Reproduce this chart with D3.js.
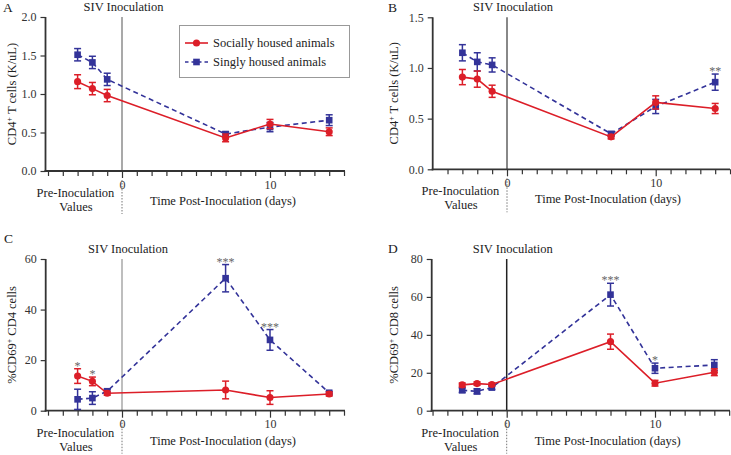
<!DOCTYPE html>
<html><head><meta charset="utf-8">
<script src="https://cdn.jsdelivr.net/npm/d3@7"></script>
<style>body{margin:0;background:#fff}svg{display:block}svg text{font-family:'Liberation Serif','Times New Roman',serif}</style>
</head><body>
<svg id="c" width="731" height="455"></svg>
<script>
// ---- data ----
const days = [-3, -2, -1, 7, 10, 14];
const seriesNames = ["Socially housed animals", "Singly housed animals"];

const aSocial = [1.16, 1.07, 0.98, 0.43, 0.61, 0.51];
const aSocialErr = [0.09, 0.08, 0.08, 0.05, 0.06, 0.05];
const aSingle = [1.51, 1.41, 1.19, 0.48, 0.57, 0.66];
const aSingleErr = [0.08, 0.08, 0.08, 0.03, 0.06, 0.07];

const bSocial = [0.91, 0.89, 0.77, 0.32, 0.66, 0.60];
const bSocialErr = [0.075, 0.08, 0.06, 0.02, 0.065, 0.05];
const bSingle = [1.15, 1.06, 1.03, 0.35, 0.62, 0.86];
const bSingleErr = [0.08, 0.09, 0.07, 0.02, 0.07, 0.08];

const cSocial = [13.7, 11.6, 6.9, 8.2, 5.2, 6.6];
const cSocialErr = [2.9, 1.7, 0.8, 3.5, 2.7, 0.8];
const cSingle = [4.5, 5.0, 7.7, 52.4, 28.0, 7.1];
const cSingleErr = [4.0, 2.5, 0.8, 5.4, 4.1, 0.5];

const dSocial = [13.6, 14.3, 13.8, 36.4, 14.5, 20.3];
const dSocialErr = [1.0, 0.9, 0.9, 4.0, 1.5, 1.8];
const dSingle = [10.8, 10.2, 12.2, 61.2, 22.4, 24.1];
const dSingleErr = [1.2, 1.3, 1.0, 6.0, 2.7, 2.8];

const aYTicks = [0, 0.5, 1.0, 1.5, 2.0];
const bYTicks = [0, 0.5, 1.0, 1.5];
const cYTicks = [0, 20, 40, 60];
const dYTicks = [0, 20, 40, 60, 80];
const xMajorTicks = [0, 10];

const aStars = [];
const bStars = [{s: 1, day: 14, t: "**"}];
const cStars = [{s: 0, day: -3, t: "*"}, {s: 0, day: -2, t: "*"}, {s: 1, day: 7, t: "***"}, {s: 1, day: 10, t: "***"}];
const dStars = [{s: 1, day: 7, t: "***"}, {s: 1, day: 10, t: "*"}];

// ---- layout ----
const RED = "#dc1e28", BLUE = "#333399";
const FONT = "'Liberation Serif', 'Times New Roman', serif";
const panels = [
  {letter: "A", social: aSocial, socialErr: aSocialErr, single: aSingle, singleErr: aSingleErr, yTicks: aYTicks, yMax: 2.0, fmt: d3.format(".1f"), stars: aStars,
   ylabel: ["CD4", "+", " T cells (K/uL)"], left: 45.5, zero: 122, ten: 270, right: 345, top: 17, bottom: 171, ylabX: 12, letterX: 3, letterY: 12, vcol: "#8c8c8c", sivDx: 1.5, legend: true},
  {letter: "B", social: bSocial, socialErr: bSocialErr, single: bSingle, singleErr: bSingleErr, yTicks: bYTicks, yMax: 1.5, fmt: d3.format(".1f"), stars: bStars,
   ylabel: ["CD4", "+", " T cells (K/uL)"], left: 432.7, zero: 507, ten: 655.7, right: 730, top: 17.3, bottom: 169.3, ylabX: 394, letterX: 388, letterY: 12, vcol: "#606060", sivDx: 6},
  {letter: "C", social: cSocial, socialErr: cSocialErr, single: cSingle, singleErr: cSingleErr, yTicks: cYTicks, yMax: 60, fmt: d3.format("d"), stars: cStars,
   ylabel: ["%CD69", "+", " CD4 cells"], left: 45.7, zero: 122, ten: 270, right: 345, top: 259, bottom: 410.7, ylabX: 12, letterX: 4, letterY: 243, vcol: "#a8a8a8", sivDx: 6},
  {letter: "D", social: dSocial, socialErr: dSocialErr, single: dSingle, singleErr: dSingleErr, yTicks: dYTicks, yMax: 80, fmt: d3.format("d"), stars: dStars,
   ylabel: ["%CD69", "+", " CD8 cells"], left: 431.7, zero: 506.7, ten: 655, right: 730, top: 259, bottom: 410.7, ylabX: 394, letterX: 388, letterY: 253, vcol: "#222", sivDx: 6}
];

const svg = d3.select("#c");
function txt(g, x, y, s, size, anchor) {
  return g.append("text").attr("x", x).attr("y", y).attr("text-anchor", anchor || "start")
    .style("font-family", FONT).attr("font-size", size).attr("fill", "#222").text(s);
}

panels.forEach(p => {
  const g = svg.append("g");
  const x = d3.scaleLinear().domain([0, 10]).range([p.zero, p.ten]);
  const y = d3.scaleLinear().domain([0, p.yMax]).range([p.bottom, p.top]);
  const dMin = Math.ceil(x.invert(p.left) + 0.01), dMax = Math.floor(x.invert(p.right) + 0.1);
  const minor = d3.range(dMin, dMax + 1);

  // vertical inoculation line
  g.append("line").attr("x1", x(0)).attr("x2", x(0)).attr("y1", p.top).attr("y2", p.bottom)
    .attr("stroke", p.vcol).attr("stroke-width", 1.5);
  g.append("line").attr("x1", x(0)).attr("x2", x(0)).attr("y1", p.bottom + 9).attr("y2", p.bottom + 43)
    .attr("stroke", "#777").attr("stroke-width", 1).attr("stroke-dasharray", "1.5,1.5");
  txt(g, x(0) + p.sivDx, p.top - 6, "SIV Inoculation", 12.5, "middle");

  // x axis
  const xAxis = d3.axisBottom(x).tickValues(minor).tickSize(5).tickFormat(d => xMajorTicks.includes(d) ? d : "");
  const xa = g.append("g").attr("transform", `translate(0,${p.bottom})`).call(xAxis);
  xa.attr("font-family", null);
  xa.select(".domain").remove();
  xa.append("line").attr("x1", p.left - 1).attr("x2", p.right).attr("stroke", "#333").attr("stroke-width", 1.8);
  xa.selectAll(".tick line").attr("stroke", "#333").attr("stroke-width", 1.2)
    .attr("y2", d => xMajorTicks.includes(d) ? 7 : 5);
  xa.selectAll(".tick text").style("font-family", FONT).attr("font-size", 12).attr("fill", "#333").attr("y", 9);

  // y axis
  const yAxis = d3.axisLeft(y).tickValues(p.yTicks).tickSize(5).tickPadding(4).tickFormat(p.fmt);
  const ya = g.append("g").attr("transform", `translate(${p.left},0)`).call(yAxis);
  ya.attr("font-family", null);
  ya.select(".domain").remove();
  ya.append("line").attr("y1", p.top).attr("y2", p.bottom + 1).attr("stroke", "#333").attr("stroke-width", 1.8);
  ya.selectAll(".tick line").attr("stroke", "#333").attr("stroke-width", 1.2);
  ya.selectAll(".tick text").style("font-family", FONT).attr("font-size", 12).attr("fill", "#333");

  // labels
  txt(g, p.zero - 46.5, p.bottom + 26, "Pre-Inoculation", 12.5, "middle");
  txt(g, p.zero - 46, p.bottom + 40, "Values", 12.5, "middle");
  txt(g, p.zero + 101, p.bottom + 34, "Time Post-Inoculation (days)", 12.5, "middle");
  const yl = g.append("text").attr("transform", `translate(${p.ylabX},${(p.top + p.bottom) / 2}) rotate(-90)`)
    .attr("text-anchor", "middle").attr("dy", "0.35em").style("font-family", FONT).attr("font-size", 12.5).attr("fill", "#222");
  yl.append("tspan").text(p.ylabel[0]);
  yl.append("tspan").attr("dy", -4).attr("font-size", 8).text(p.ylabel[1]);
  yl.append("tspan").attr("dy", 4).text(p.ylabel[2]);
  txt(g, p.letterX, p.letterY, p.letter, 13.5);

  // series
  const series = [
    {vals: p.social, err: p.socialErr, color: RED, dash: null, shape: "circle"},
    {vals: p.single, err: p.singleErr, color: BLUE, dash: "5,3.5", shape: "square"}
  ];
  const line = d3.line().x(d => x(d[0])).y(d => y(d[1]));
  [series[1], series[0]].forEach(s => {
    const pts = days.map((d, i) => [d, s.vals[i], s.err[i]]);
    g.append("path").datum(pts).attr("d", line).attr("fill", "none").attr("stroke", s.color)
      .attr("stroke-width", 1.6).attr("stroke-dasharray", s.dash);
    const eb = g.append("g").attr("stroke", s.color).attr("stroke-width", 1.5);
    pts.forEach(d => {
      const cx = x(d[0]), y1 = y(d[1] + d[2]), y2 = y(Math.max(0, d[1] - d[2]));
      eb.append("line").attr("x1", cx).attr("x2", cx).attr("y1", y1).attr("y2", y2);
      eb.append("line").attr("x1", cx - 3.5).attr("x2", cx + 3.5).attr("y1", y1).attr("y2", y1);
      eb.append("line").attr("x1", cx - 3.5).attr("x2", cx + 3.5).attr("y1", y2).attr("y2", y2);
    });
    const sym = d3.symbol().type(s.shape === "circle" ? d3.symbolCircle : d3.symbolSquare).size(s.shape === "circle" ? 40 : 44);
    g.append("g").selectAll("path").data(pts).join("path")
      .attr("transform", d => `translate(${x(d[0])},${y(d[1])})`).attr("d", sym).attr("fill", s.color);
  });

  // significance stars
  p.stars.forEach(st => {
    const s = series[st.s];
    const i = days.indexOf(st.day);
    txt(g, x(st.day), y(s.vals[i] + s.err[i]) + 1, st.t, 12, "middle").attr("fill", "#666");
  });

  // legend
  if (p.legend) {
    const lg = g.append("g");
    lg.append("rect").attr("x", 179.5).attr("y", 25.5).attr("width", 170).attr("height", 52)
      .attr("fill", "#fff").attr("stroke", "#999").attr("stroke-width", 1);
    series.forEach((s, k) => {
      const ly = 43 + k * 19;
      lg.append("line").attr("x1", 185).attr("x2", 208).attr("y1", ly).attr("y2", ly)
        .attr("stroke", s.color).attr("stroke-width", 1.6).attr("stroke-dasharray", s.dash ? "3.5,3" : null);
      const sym = d3.symbol().type(s.shape === "circle" ? d3.symbolCircle : d3.symbolSquare).size(s.shape === "circle" ? 40 : 44);
      lg.append("path").attr("transform", `translate(196.5,${ly})`).attr("d", sym).attr("fill", s.color);
      txt(lg, 213, ly + 4, seriesNames[k], 12.5);
    });
  }
});
</script>
</body></html>
